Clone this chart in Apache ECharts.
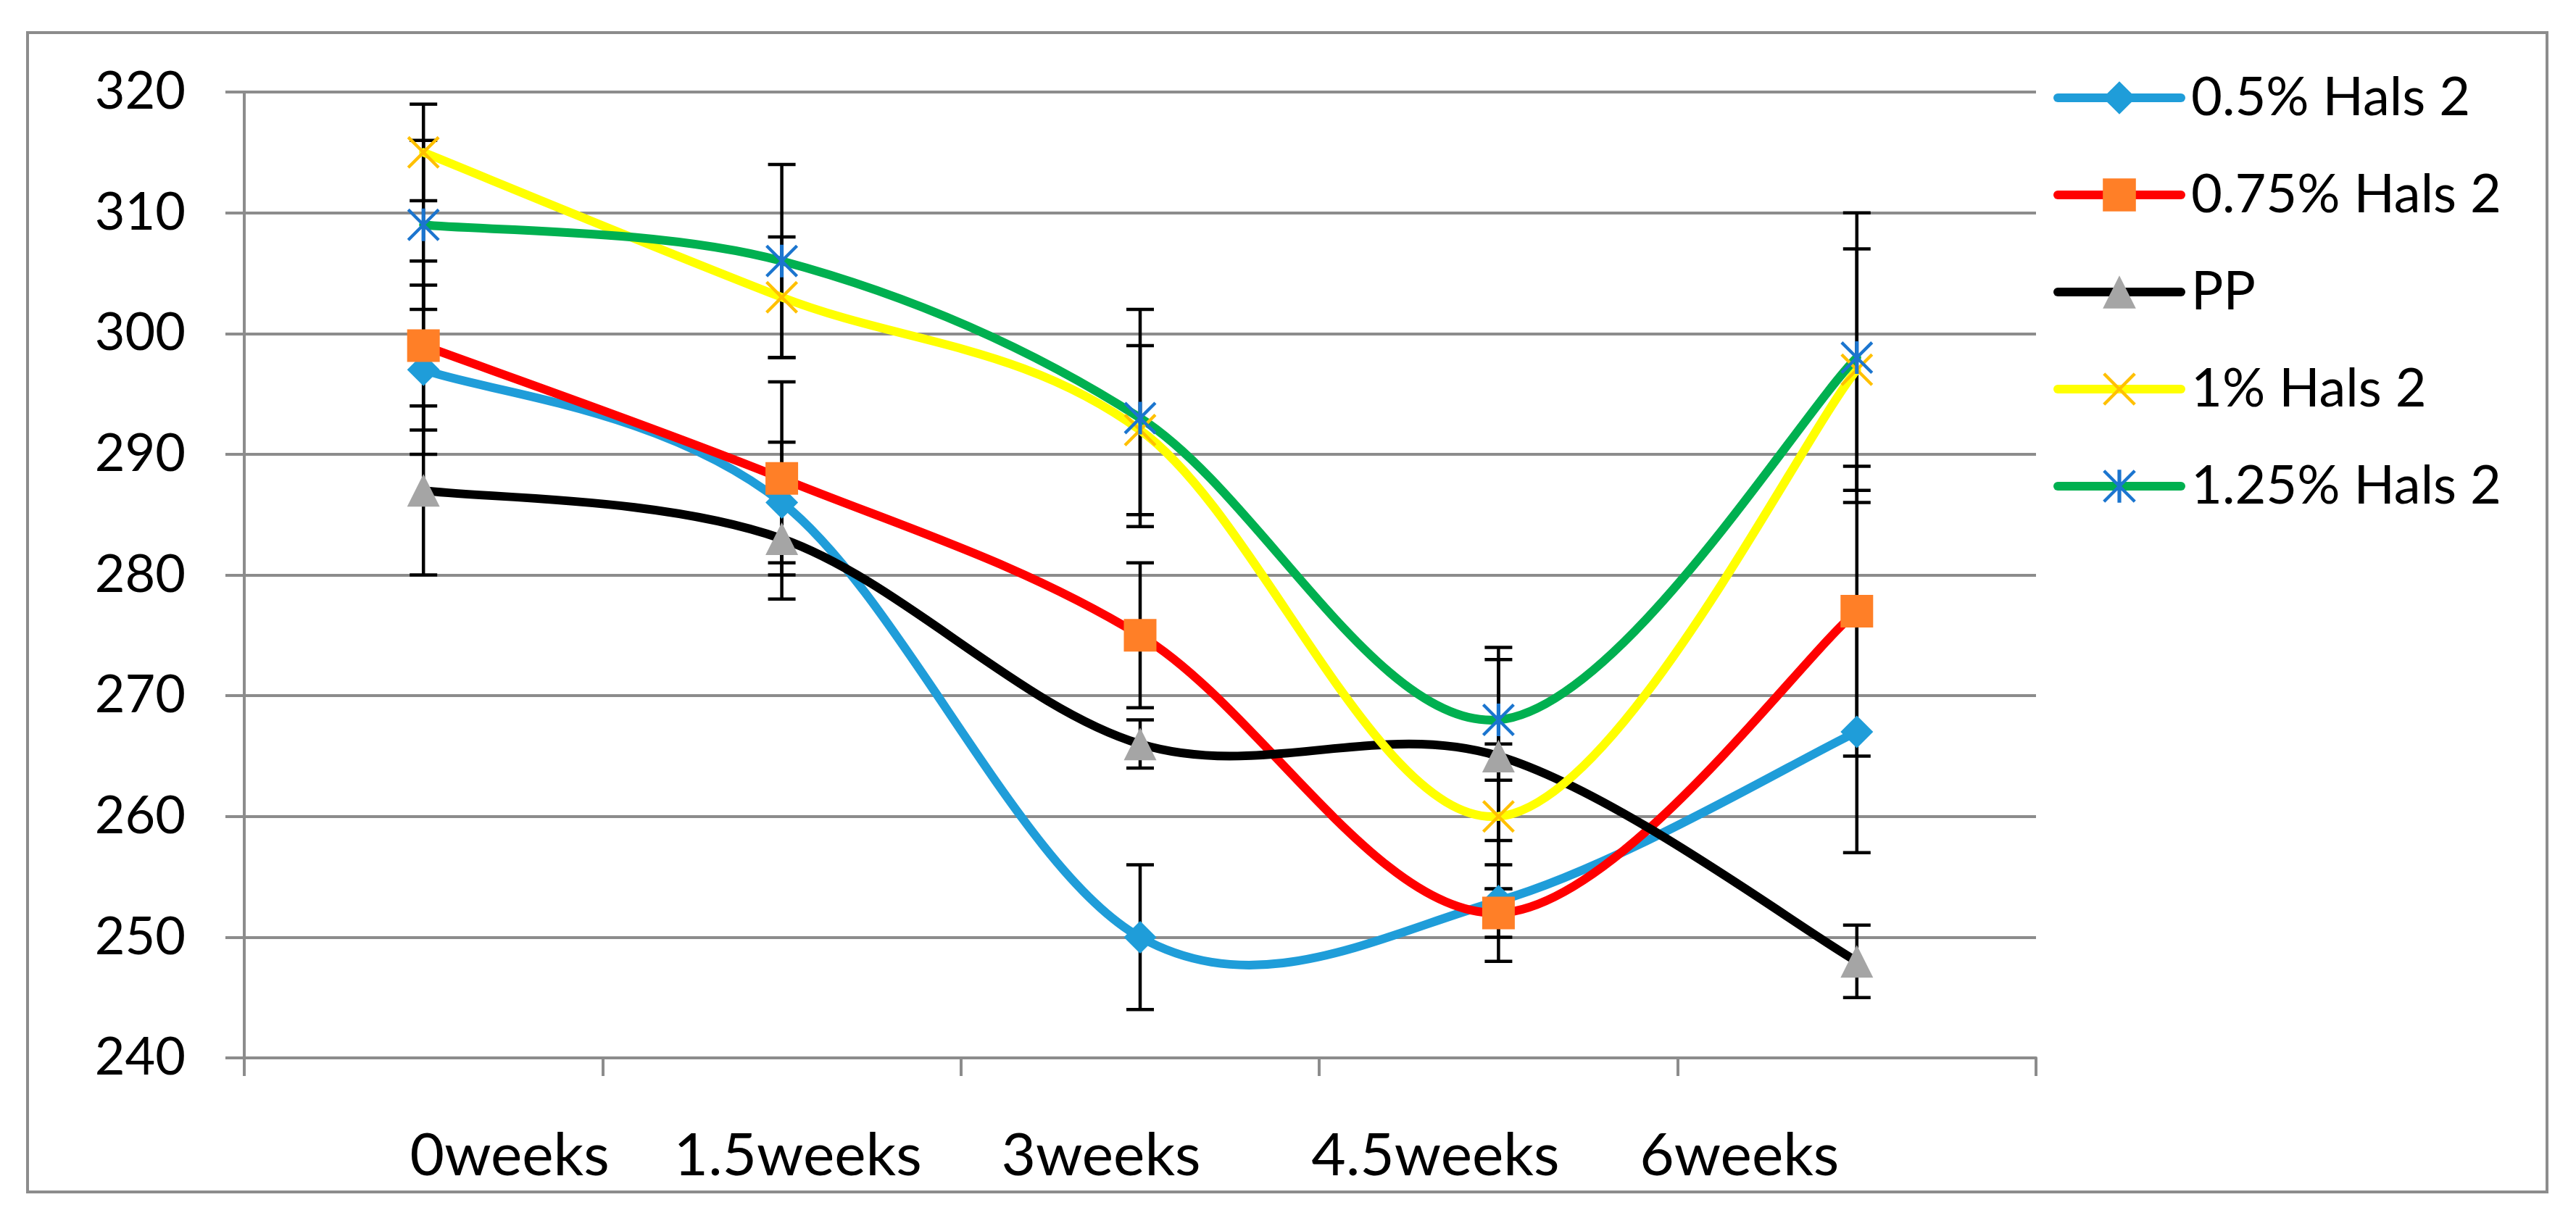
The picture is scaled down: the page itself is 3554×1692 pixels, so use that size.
<!DOCTYPE html>
<html>
<head>
<meta charset="utf-8">
<script src="https://cdn.jsdelivr.net/npm/echarts@6/dist/echarts.min.js"></script>
<style>
html,body{margin:0;padding:0;background:#fff;}
#chart{width:3554px;height:1692px;}
</style>
</head>
<body>
<div id="chart"></div>
<script>
// ---- data ----
const categories = ['0weeks', '1.5weeks', '3weeks', '4.5weeks', '6weeks'];
const seriesNames = ['0.5% Hals 2', '0.75% Hals 2', 'PP', '1% Hals 2', '1.25% Hals 2'];
const hals05 = [297, 286, 250, 253, 267];
const hals075 = [299, 288, 275, 252, 277];
const pp = [287, 283, 266, 265, 248];
const hals1 = [315, 303, 292, 260, 297];
const hals125 = [309, 306, 293, 268, 298];
const err05 = [7, 5, 6, 5, 10];
const err075 = [7, 8, 6, 2, 12];
const errPP = [7, 5, 2, 9, 3];
const err1 = [4, 5, 7, 6, 10];
const err125 = [7, 8, 9, 5, 12];
const yTicks = [240, 250, 260, 270, 280, 290, 300, 310, 320];

// ---- styles ----
const FONT = 'Lato';
const grey = '#8c8c8c';
const xPath = 'path://M0,3L3,0L22,19L41,0L44,3L25,22L44,41L41,44L22,25L3,44L0,41L19,22Z';
const starPath = 'path://M0,3L3,0L22,19L41,0L44,3L25,22L44,41L41,44L22,25L3,44L0,41L19,22Z M19.5,0L24.5,0L24.5,44L19.5,44Z';

const values = [hals05, hals075, pp, hals1, hals125];
const errors = [err05, err075, errPP, err1, err125];
const lineColors = ['#1f9dd9', '#ff0000', '#000000', '#ffff00', '#00b050'];
const markColors = ['#1f9dd9', '#ff7f27', '#a5a5a5', '#ffc000', '#1b75cf'];
const symbols = ['diamond', 'rect', 'triangle', xPath, starPath];
const LINE_W = 12;

const errData = [];
values.forEach((vals, s) => vals.forEach((v, i) => errData.push([i, v, errors[s][i]])));

const labelShift = [119, 22, -54, -87, -162];
const rich = {};
labelShift.forEach((d, i) => {
  rich['l' + i] = {
    fontFamily: FONT, fontSize: 82, color: '#000',
    padding: d >= 0 ? [0, 0, 0, 2 * d] : [0, -2 * d, 0, 0]
  };
});

// Smooth curve (Catmull-Rom style Bezier, like spreadsheet smoothing) drawn through axis coords
function curveSeries(s) {
  const vals = values[s];
  return {
    type: 'custom',
    name: seriesNames[s] + ' curve',
    z: 3,
    silent: true,
    data: vals.map((v, i) => [i, v]),
    encode: { x: 0, y: 1 },
    renderItem: (params, api) => {
      const i = params.dataIndex;
      const n = vals.length;
      if (i >= n - 1) return null;
      const P = k => api.coord([Math.max(0, Math.min(n - 1, k)), vals[Math.max(0, Math.min(n - 1, k))]]);
      const p0 = P(i - 1), p1 = P(i), p2 = P(i + 1), p3 = P(i + 2);
      const c1 = [p1[0] + (p2[0] - p0[0]) / 6, p1[1] + (p2[1] - p0[1]) / 6];
      const c2 = [p2[0] - (p3[0] - p1[0]) / 6, p2[1] - (p3[1] - p1[1]) / 6];
      return {
        type: 'bezierCurve',
        shape: { x1: p1[0], y1: p1[1], x2: p2[0], y2: p2[1], cpx1: c1[0], cpy1: c1[1], cpx2: c2[0], cpy2: c2[1] },
        style: { stroke: lineColors[s], lineWidth: LINE_W, fill: 'none', lineCap: 'round' }
      };
    }
  };
}

const chart = echarts.init(document.getElementById('chart'));
const markerSeries = values.map((vals, s) => ({
  name: seriesNames[s],
  type: 'line',
  data: vals,
  z: 4,
  symbol: symbols[s],
  symbolSize: 45,
  showAllSymbol: true,
  itemStyle: { color: markColors[s] },
  lineStyle: { color: lineColors[s], width: LINE_W, opacity: 0 },
  emphasis: { disabled: true }
}));

chart.setOption({
  animation: false,
  backgroundColor: '#fff',
  graphic: [{
    type: 'rect', z: 0, silent: true,
    shape: { x: 38, y: 45, width: 3476, height: 1600 },
    style: { fill: 'none', stroke: grey, lineWidth: 4 }
  }],
  grid: { left: 337, right: 745, top: 127, bottom: 232, containLabel: false },
  legend: {
    orient: 'vertical',
    left: 2828, top: 90,
    itemWidth: 170, itemHeight: 57,
    itemGap: 54,
    data: seriesNames.map((nm, s) => ({
      name: nm,
      lineStyle: { color: lineColors[s], width: LINE_W, opacity: 1, cap: 'round' }
    })),
    textStyle: { fontFamily: FONT, fontSize: 74, color: '#000', lineHeight: 80, padding: [0, 0, 0, 9] }
  },
  xAxis: {
    type: 'category',
    data: categories,
    boundaryGap: true,
    axisLine: { show: true, lineStyle: { color: grey, width: 4 } },
    axisTick: { show: true, length: 25, lineStyle: { color: grey, width: 4 } },
    axisLabel: {
      margin: 95,
      formatter: (val, idx) => '{l' + idx + '|' + val + '}',
      rich: rich
    },
    splitLine: { show: false }
  },
  yAxis: {
    type: 'value',
    min: 240, max: 320, interval: 10,
    axisLine: { show: true, lineStyle: { color: grey, width: 4 } },
    axisTick: { show: true, length: 26, lineStyle: { color: grey, width: 4 } },
    axisLabel: {
      margin: 81, fontFamily: FONT, fontSize: 72, color: '#000',
      formatter: v => (yTicks.indexOf(v) >= 0 ? String(v) : '')
    },
    splitLine: { show: true, lineStyle: { color: grey, width: 4 } }
  },
  series: [{
    type: 'custom',
    name: 'errorbars',
    z: 2,
    silent: true,
    data: errData,
    encode: { x: 0, y: 1 },
    renderItem: (params, api) => {
      const x = api.value(0), v = api.value(1), e = api.value(2);
      const hi = api.coord([x, v + e]);
      const lo = api.coord([x, v - e]);
      const w = 19;
      const st = { stroke: '#000', lineWidth: 4.5 };
      return {
        type: 'group',
        children: [
          { type: 'line', shape: { x1: hi[0], y1: hi[1], x2: lo[0], y2: lo[1] }, style: st },
          { type: 'line', shape: { x1: hi[0] - w, y1: hi[1], x2: hi[0] + w, y2: hi[1] }, style: st },
          { type: 'line', shape: { x1: lo[0] - w, y1: lo[1], x2: lo[0] + w, y2: lo[1] }, style: st }
        ]
      };
    }
  }].concat(values.map((v, s) => curveSeries(s))).concat(markerSeries)
});
</script>
</body>
</html>
